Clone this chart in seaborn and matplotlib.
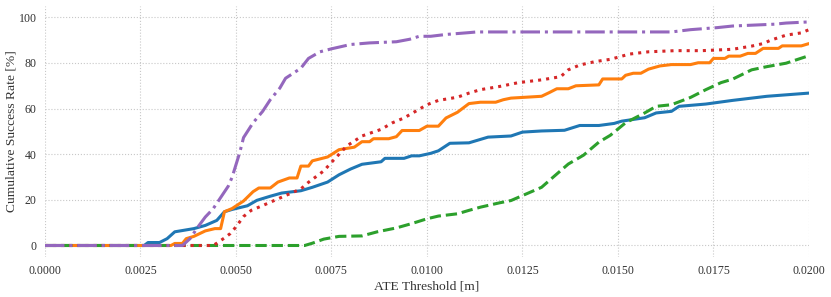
import pandas as pd
import matplotlib
matplotlib.use('Agg')
import matplotlib.pyplot as plt
import seaborn as sns

# Cumulative success rate [%] vs ATE threshold [m]
blue_x = [0, 0.0026, 0.0027, 0.0030, 0.0032, 0.0034, 0.0039, 0.0042, 0.0045, 0.0047,
          0.0049, 0.0053, 0.00555, 0.0059, 0.0062, 0.0067, 0.0070, 0.0074, 0.0077, 0.0080,
          0.0083, 0.0088, 0.0089, 0.0094, 0.0096, 0.0098, 0.0101, 0.0103, 0.0106, 0.0111,
          0.0116, 0.0122, 0.0125, 0.0130, 0.0136, 0.0140, 0.0145, 0.0149, 0.0151, 0.0157,
          0.0160, 0.0164, 0.0166, 0.0173, 0.0180, 0.0189, 0.0200]
blue_y = [0, 0, 1.3, 1.3, 3, 6, 7.4, 8.8, 11, 14.8,
          15.8, 17.4, 19.8, 21.6, 23, 24, 25.5, 27.8, 31, 33.5,
          35.6, 36.7, 38.2, 38.2, 39.3, 39.3, 40.4, 41.5, 44.8, 45,
          47.5, 48, 49.7, 50.2, 50.5, 52.6, 52.6, 53.5, 54.5, 56,
          58.1, 58.8, 61, 62, 63.6, 65.4, 66.8]

orange_x = [0, 0.0033, 0.0034, 0.0036, 0.0037, 0.0039, 0.0042, 0.00445, 0.0046, 0.0047,
            0.0049, 0.0052, 0.00545, 0.0056, 0.0059, 0.0061, 0.0064, 0.0066, 0.0067, 0.0069,
            0.0070, 0.0074, 0.0077, 0.0081, 0.0083, 0.0085, 0.0086, 0.0090, 0.0092, 0.00935,
            0.0098, 0.0100, 0.0103, 0.0105, 0.0108, 0.0111, 0.0114, 0.0118, 0.0120, 0.0122,
            0.0130, 0.0132, 0.0134, 0.0137, 0.0139, 0.0145, 0.0146, 0.0151, 0.0152, 0.0154,
            0.0156, 0.0158, 0.0161, 0.0164, 0.0169, 0.0171, 0.0174, 0.0175, 0.0178, 0.0179,
            0.0182, 0.0184, 0.0186, 0.0188, 0.0192, 0.0193, 0.0198, 0.0200]
orange_y = [0, 0, 0.9, 0.9, 3, 4, 6.4, 7.4, 7.4, 14.8,
            16.2, 19.5, 23.6, 25.2, 25.2, 27.8, 29.6, 29.6, 34.8, 34.8,
            37.1, 38.8, 42, 43.1, 45.5, 45.5, 46.8, 46.8, 47.7, 50.4,
            50.4, 52.3, 52.3, 55.9, 58.4, 62.2, 62.8, 62.8, 63.9, 64.6,
            65.4, 67, 68.7, 68.7, 70, 70.4, 73, 73, 74.6, 75.5,
            75.5, 77.3, 78.7, 79.3, 79.3, 80.1, 80.1, 82, 82, 83,
            83, 84.2, 84.2, 86.4, 86.4, 87.5, 87.5, 88.5]

green_x = [0, 0.0068, 0.0070, 0.0073, 0.0077, 0.0083, 0.0087, 0.0092, 0.0096, 0.0100,
           0.0103, 0.0108, 0.0111, 0.0114, 0.0119, 0.0122, 0.0126, 0.0130, 0.0133, 0.0137,
           0.0141, 0.0145, 0.0148, 0.0152, 0.0157, 0.0160, 0.0164, 0.0169, 0.0173, 0.0177,
           0.0180, 0.0185, 0.0189, 0.0194, 0.0200]
green_y = [0, 0, 1, 2.8, 4, 4.2, 6, 7.7, 9.6, 11.7,
           12.9, 13.9, 15.4, 16.8, 18.7, 19.7, 22.6, 25.5, 29.9, 35.7,
           39.6, 45.3, 48.3, 53.8, 58.1, 61, 61.7, 64.9, 68.3, 71.4,
           72.9, 77, 78.4, 79.9, 83.2]

red_x = [0, 0.0044, 0.0045, 0.0047, 0.00485, 0.0050, 0.0052, 0.0054, 0.0057, 0.0060,
         0.0063, 0.0067, 0.0069, 0.0073, 0.0075, 0.0077, 0.0079, 0.0083, 0.0088, 0.0091,
         0.0094, 0.0097, 0.0100, 0.0103, 0.0108, 0.0111, 0.0114, 0.0119, 0.0124, 0.0130,
         0.0135, 0.0137, 0.0140, 0.0144, 0.0148, 0.0153, 0.0158, 0.0165, 0.0172, 0.0180,
         0.0185, 0.0188, 0.0190, 0.0194, 0.0198, 0.0200]
red_y = [0, 0, 1, 3.3, 5.2, 8.1, 12.7, 15.4, 17.5, 19.7,
         21.9, 24.8, 27.7, 32.7, 36.4, 40, 43.6, 48, 50.9, 53.8,
         55.9, 58.8, 61.7, 63.6, 65, 66.8, 68.3, 69.7, 71.4, 72.6,
         74, 77, 79.1, 80.6, 81.6, 83.9, 84.9, 85.4, 85.4, 86,
         87.4, 88.5, 90, 92.2, 93.2, 94.6]

purple_x = [0, 0.0036, 0.0038, 0.0040, 0.0042, 0.0044, 0.0046, 0.0048, 0.0049, 0.0051,
            0.0052, 0.00545, 0.0057, 0.0059, 0.00615, 0.0063, 0.0067, 0.0069, 0.0072, 0.0075,
            0.0080, 0.0085, 0.0092, 0.00955, 0.0098, 0.0101, 0.0105, 0.0111, 0.0113, 0.0164,
            0.0169, 0.0176, 0.0180, 0.0191, 0.0194, 0.0200]
purple_y = [0, 0, 3, 8, 12.5, 16, 21, 26, 29.9, 40.7,
            47.3, 53.8, 58.8, 63.9, 69, 73.3, 77.7, 82, 84.9, 86.2,
            88.1, 88.8, 89.3, 90.4, 91.7, 91.7, 92.5, 93.3, 93.6, 93.6,
            94.6, 95.5, 96.2, 97, 97.5, 98]

methods = ['A', 'B', 'C', 'D', 'E']
series = [(blue_x, blue_y), (orange_x, orange_y), (green_x, green_y),
          (red_x, red_y), (purple_x, purple_y)]

frames = []
for name, (xs, ys) in zip(methods, series):
    frames.append(pd.DataFrame({'ATE Threshold [m]': xs,
                                'Cumulative Success Rate [%]': ys,
                                'method': name}))
df = pd.concat(frames, ignore_index=True)

sns.set_theme(style='whitegrid')
plt.rcParams['font.family'] = ['Liberation Serif', 'DejaVu Serif']
plt.rcParams['grid.color'] = '#c8c8c8'
plt.rcParams['grid.linestyle'] = ':'
plt.rcParams['grid.linewidth'] = 0.8

palette = {'A': '#1f77b4', 'B': '#ff7f0e', 'C': '#2ca02c', 'D': '#d62728', 'E': '#9467bd'}
dashes = {'A': '', 'B': '', 'C': (3.7, 1.6), 'D': (1, 1.65), 'E': (6.4, 1.6, 1, 1.6)}

fig, ax = plt.subplots(figsize=(8.31, 2.97), dpi=100)
fig.subplots_adjust(left=0.054, right=0.9735, bottom=0.135, top=0.98)

sns.lineplot(data=df, x='ATE Threshold [m]', y='Cumulative Success Rate [%]',
             hue='method', style='method', palette=palette, dashes=dashes,
             estimator=None, linewidth=2.2, legend=False, ax=ax)

ax.set_xlim(0, 0.02)
ax.set_ylim(-5, 105)
ax.set_xticks([0, 0.0025, 0.005, 0.0075, 0.01, 0.0125, 0.015, 0.0175, 0.02])
ax.set_xticklabels([f'{v:.4f}' for v in ax.get_xticks()])
ax.set_yticks([0, 20, 40, 60, 80, 100])
ax.tick_params(labelsize=8.6, length=0, pad=6, colors='#333333')
ax.set_xlabel('ATE Threshold [m]', fontsize=9.7, labelpad=2, color='#333333')
ax.set_ylabel('Cumulative Success Rate [%]', fontsize=9.7, labelpad=0.5, color='#333333')
sns.despine(ax=ax, left=True, bottom=True)

plt.savefig('out.png', dpi=100, facecolor='white')
plt.close()
